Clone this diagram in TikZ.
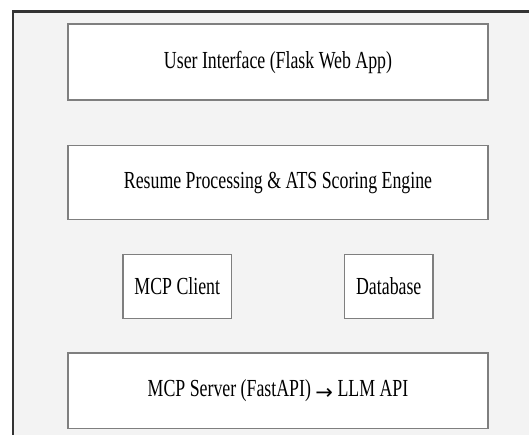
\documentclass[tikz,border=0pt]{standalone}
\usepackage{fontspec}
\newfontfamily\boxfont{Liberation Serif}[FakeStretch=0.727]
\newfontfamily\arrowfont{DejaVu Sans}
\newcommand{\flowarrow}{\raisebox{-2.5pt}{\fontsize{21}{24}\arrowfont →}}
\definecolor{panelfill}{HTML}{F3F3F3}
\definecolor{panelline}{HTML}{333333}
\definecolor{boxline}{HTML}{7F7F7F}
\begin{document}
\begin{tikzpicture}[x=1pt,y=1pt,
  layer/.style={draw=boxline, line width=1.5pt, fill=white, inner sep=0pt,
    font=\fontsize{24.5}{28}\boxfont, text=black},
  panel/.style={draw=panelline, line width=2.5pt, fill=panelfill}]
  \useasboundingbox (0,0) rectangle (529,434);
  \clip (0,0) rectangle (529,434);
  % enclosing panel, running off the right and bottom edges
  \draw[panel] (13,422.5) rectangle (560,-20);
  % architecture layers
  \node[layer, minimum width=420pt, minimum height=76pt] (ui) at (278,372)
    {User Interface (Flask Web App)};
  \node[layer, minimum width=420pt, minimum height=74pt] (engine) at (278,251.5)
    {Resume Processing \& ATS Scoring Engine};
  \node[layer, minimum width=108.5pt, minimum height=64pt] (client) at (177.25,147.5)
    {MCP Client};
  \node[layer, minimum width=88.5pt, minimum height=64pt] (db) at (388.75,147.5)
    {Database};
  \node[layer, minimum width=420pt, minimum height=75.5pt] (server) at (278,43.25)
    {MCP Server (FastAPI) \flowarrow{} LLM API};
\end{tikzpicture}
\end{document}
